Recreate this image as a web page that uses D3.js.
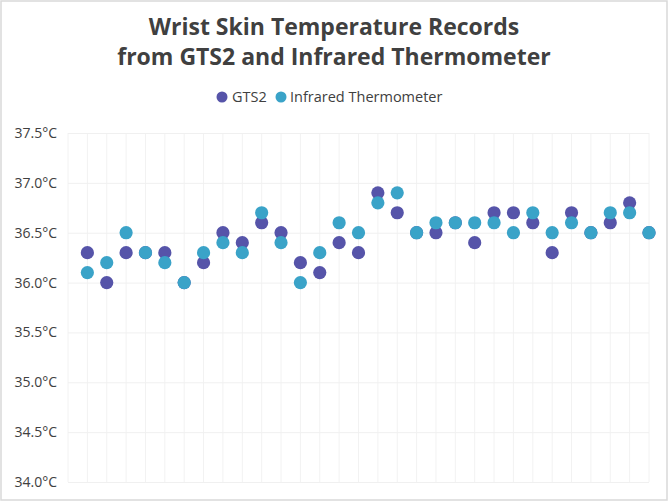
<!DOCTYPE html>
<html>
<head>
<meta charset="utf-8">
<script src="https://cdn.jsdelivr.net/npm/d3@7"></script>
<style>
  html, body { margin: 0; padding: 0; background: #fff; }
  svg { display: block; }
</style>
</head>
<body>
<svg id="chart" width="668" height="502"></svg>
<script>
const titleLines = ["Wrist Skin Temperature Records", "from GTS2 and Infrared Thermometer"];
const seriesNames = ["GTS2", "Infrared Thermometer"];
const categories = d3.range(1, 31);
const gts2 = [36.3, 36.0, 36.3, 36.3, 36.3, 36.0, 36.2, 36.5, 36.4, 36.6,
              36.5, 36.2, 36.1, 36.4, 36.3, 36.9, 36.7, 36.5, 36.5, 36.6,
              36.4, 36.7, 36.7, 36.6, 36.3, 36.7, 36.5, 36.6, 36.8, 36.5];
const infrared = [36.1, 36.2, 36.5, 36.3, 36.2, 36.0, 36.3, 36.4, 36.3, 36.7,
                  36.4, 36.0, 36.3, 36.6, 36.5, 36.8, 36.9, 36.5, 36.6, 36.6,
                  36.6, 36.6, 36.5, 36.7, 36.5, 36.6, 36.5, 36.7, 36.7, 36.5];
const yTicks = [34.0, 34.5, 35.0, 35.5, 36.0, 36.5, 37.0, 37.5];
const colors = ["#5654A9", "#3AA3C8"];

const svg = d3.select("#chart");
const W = 668, H = 502;
const font = "'Open Sans', 'Noto Sans', sans-serif";
const textColor = "#404040";

// outer border
svg.append("rect").attr("x", 1).attr("y", 1).attr("width", W - 2).attr("height", H - 3)
  .attr("fill", "#fff").attr("stroke", "#d9d9d9").attr("stroke-width", 1.5);

const plot = { left: 68, right: 649, top: 133, bottom: 482 };

const x = d3.scaleLinear().domain([0, categories.length]).range([plot.left, plot.right]);
const y = d3.scaleLinear().domain([34, 37.5]).range([plot.bottom, plot.top]);

// vertical gridlines
const g = svg.append("g");
g.selectAll("line.v").data(d3.range(0, categories.length + 1)).enter().append("line")
  .attr("x1", d => x(d)).attr("x2", d => x(d))
  .attr("y1", plot.top).attr("y2", plot.bottom)
  .attr("stroke", "#f2f2f2").attr("stroke-width", 1);

// horizontal gridlines via axis
const yAxis = d3.axisLeft(y).tickValues(yTicks)
  .tickSize(-(plot.right - plot.left))
  .tickFormat(d => d3.format(".1f")(d) + "°C");
const ya = svg.append("g").attr("transform", `translate(${plot.left},0)`).call(yAxis);
ya.select(".domain").remove();
ya.selectAll(".tick line").attr("stroke", "#f0f0f0");
ya.selectAll(".tick text").attr("x", -11).attr("font-family", font)
  .attr("font-size", 14).attr("fill", textColor);

// title (two separate lines)
svg.append("g").selectAll("text").data(titleLines).enter().append("text")
  .attr("x", 334).attr("y", (d, i) => 35 + i * 29.5)
  .attr("text-anchor", "middle").attr("font-family", font)
  .attr("font-weight", "bold").attr("font-size", 23).attr("fill", textColor)
  .text(d => d);

// legend
const legend = svg.append("g");
const legendItems = [
  { name: seriesNames[0], color: colors[0], cx: 222, tx: 232 },
  { name: seriesNames[1], color: colors[1], cx: 281, tx: 290 }
];
legendItems.forEach(it => {
  legend.append("circle").attr("cx", it.cx).attr("cy", 97).attr("r", 5.5).attr("fill", it.color);
  legend.append("text").attr("x", it.tx).attr("y", 102).attr("font-family", font)
    .attr("font-size", 14.5).attr("fill", textColor).text(it.name);
});

// points
const series = [gts2, infrared];
series.forEach((vals, si) => {
  svg.append("g").selectAll("circle").data(vals).enter().append("circle")
    .attr("cx", (d, i) => x(categories[i]))
    .attr("cy", d => y(d))
    .attr("r", 6.6)
    .attr("fill", colors[si]);
});
</script>
</body>
</html>
